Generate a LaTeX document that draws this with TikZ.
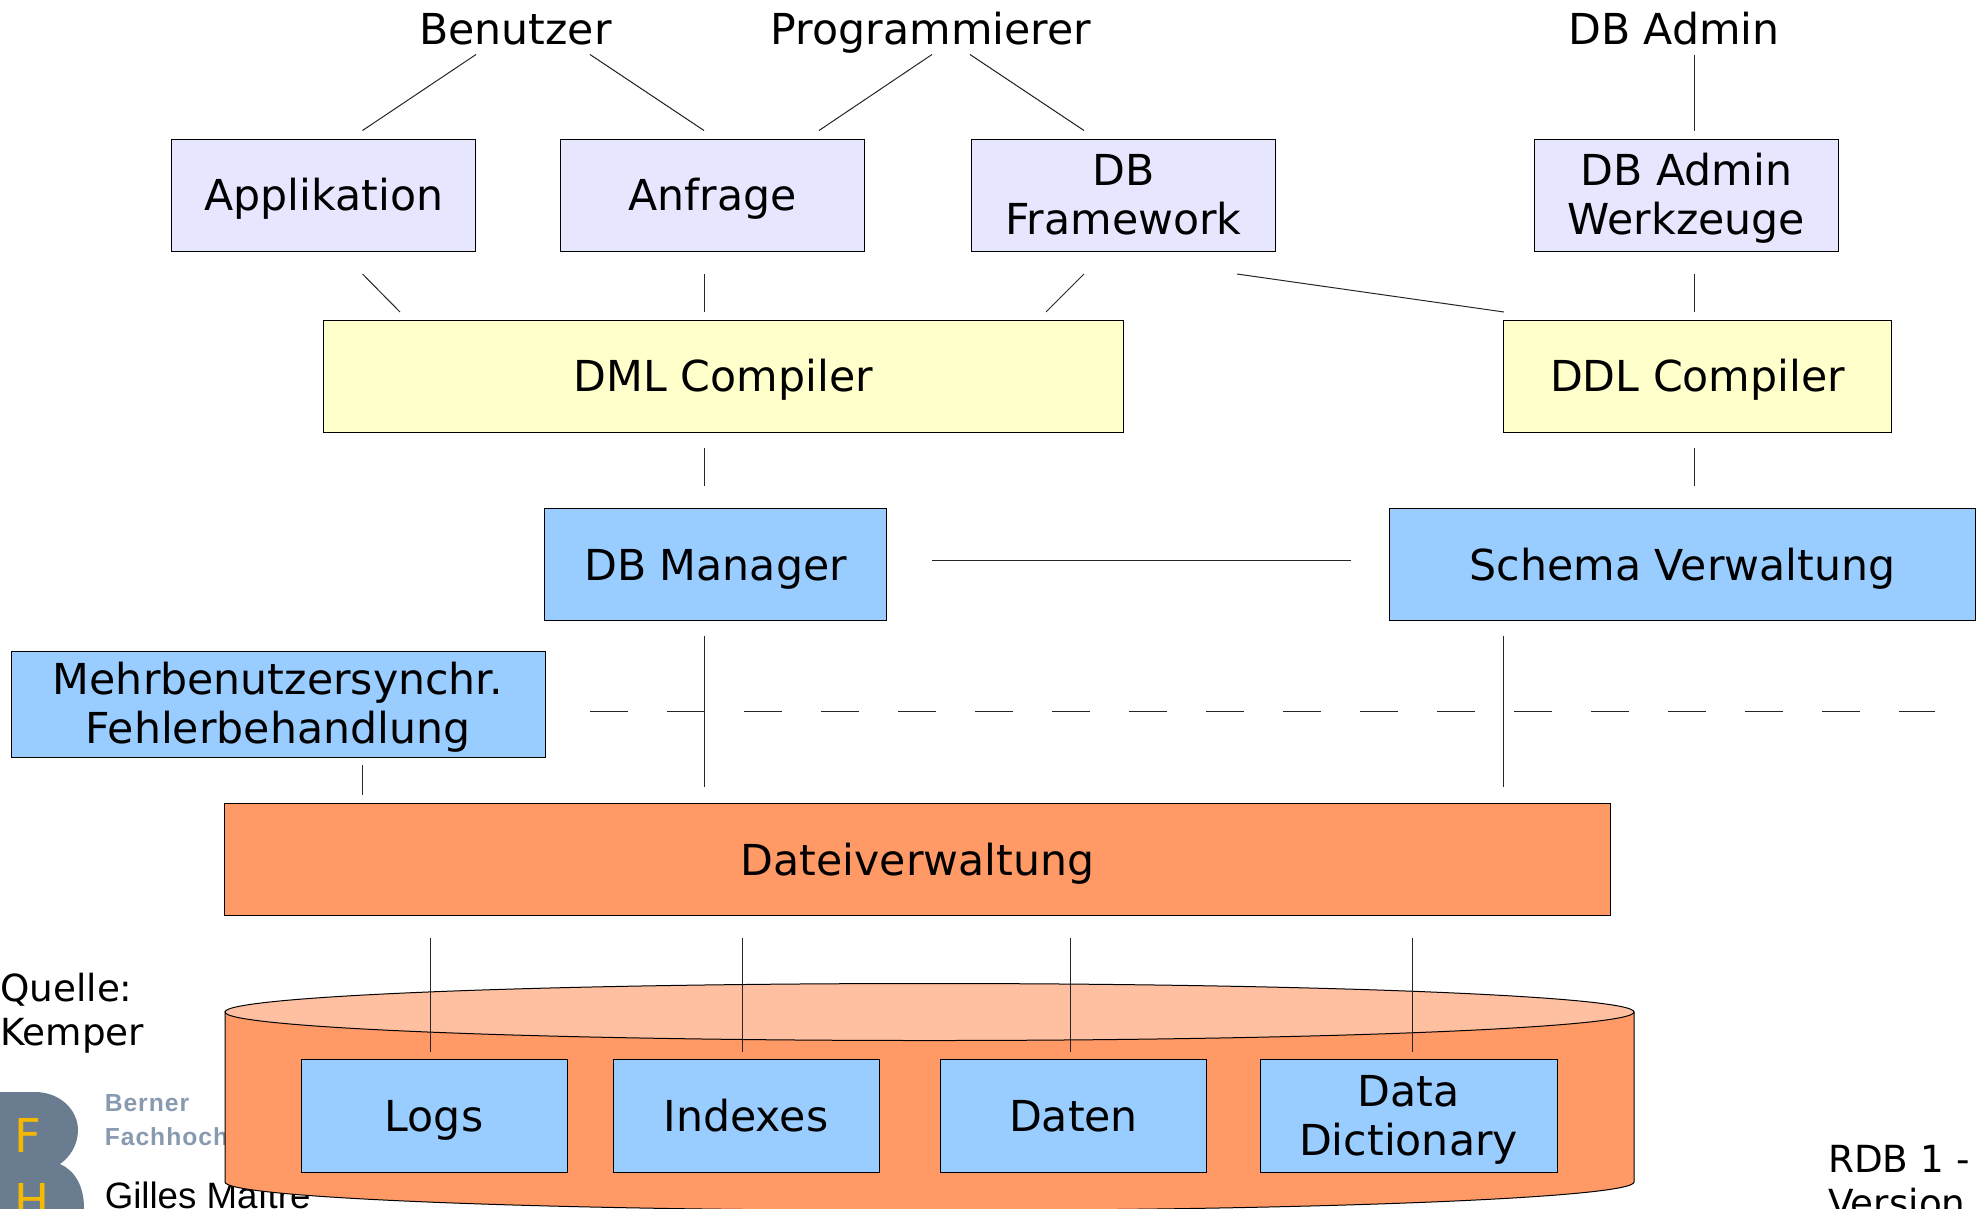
\documentclass[tikz,border=0pt]{standalone}
\usepackage{fontspec}
\setmainfont{DejaVu Sans}
\newfontfamily\arialfont{Liberation Sans}
\newfontfamily\logofont[LetterSpace=4]{Liberation Sans}
\usepackage{tikz}
\definecolor{boxlila}{RGB}{230,230,255}
\definecolor{boxgelb}{RGB}{255,255,204}
\definecolor{boxblau}{RGB}{153,204,255}
\definecolor{boxorange}{RGB}{255,153,102}
\definecolor{deckel}{RGB}{255,192,161}
\definecolor{logograu}{RGB}{106,125,144}
\definecolor{logogelb}{RGB}{245,184,0}
\definecolor{logotext}{RGB}{136,154,176}
\newcommand{\boxstrut}{\rule[-6.55pt]{0pt}{36.8pt}}
\newcommand{\topstrut}{\rule{0pt}{29pt}}
\tikzset{
  box/.style={draw,line width=0.75pt,inner sep=0pt,align=center,
    font=\fontsize{32}{36.8}\selectfont,execute at end node=\boxstrut},
  label/.style={inner sep=0pt,anchor=base,font=\fontsize{32}{36.8}\selectfont},
  note/.style={inner sep=0pt,align=left,anchor=north west,font=\fontsize{28}{33}\selectfont},
  logo/.style={inner sep=0pt,anchor=west,align=left,text=logotext,font=\logofont\bfseries\fontsize{18.5}{25.5}\selectfont},
  link/.style={line width=0.75pt,color=black!85},
}
\begin{document}
\begin{tikzpicture}[x=0.75pt,y=0.75pt,yscale=-1,xscale=1]
\useasboundingbox (0,0) rectangle (1981,1208);

% Logo
\fill [logograu] (-5,1092) -- (35,1092) .. controls (60,1092) and (78,1110) .. (78,1130) .. controls (78,1145) and (70,1157) .. (60,1164) .. controls (74,1170) and (84,1185) .. (84,1208) -- (84,1215) -- (-5,1215) -- cycle;
\node (logoF) [inner sep=0pt,anchor=west,text=logogelb,font=\fontsize{35}{40}\selectfont] at (14,1135) {F};
\node (logoH) [inner sep=0pt,anchor=west,text=logogelb,font=\fontsize{35}{40}\selectfont] at (14,1200) {H};
\node (logoTxt) [logo] at (104.5,1120) {Berner\\Fachhochschule};
\node (gilles) [inner sep=0pt,anchor=base west,font=\arialfont\fontsize{27.5}{33}\selectfont] at (104.5,1208) {Gilles Maître};

% Speicher
\draw [fill=boxorange,line width=0.75pt] (225,1012) -- (225,1182) .. controls (225,1197.7) and (540,1210.5) .. (929.5,1210.5) .. controls (1319,1210.5) and (1634,1197.7) .. (1634,1182) -- (1634,1012) -- cycle;
\draw [fill=deckel,line width=0.75pt] (929.5,1012) ellipse [x radius=704.5,y radius=28.5];

% Text Node
\node (benutzer) [label] at (515.5,44.5) {Benutzer};
\node (prog) [label] at (931,44.5) {Programmierer};
\node (admin) [label] at (1674,44.5) {DB Admin};

% Boxes
\node (appl) [box,fill=boxlila,minimum width=228pt,minimum height=84pt] at (323.8,195) {Applikation};
\node (anfrage) [box,fill=boxlila,minimum width=228pt,minimum height=84pt] at (712.5,195) {Anfrage};
\node (frame) [box,fill=boxlila,minimum width=228pt,minimum height=84pt] at (1123.5,195) {\topstrut DB\\Framework};
\node (werkz) [box,fill=boxlila,minimum width=228pt,minimum height=84pt] at (1686.5,195) {\topstrut DB Admin\\Werkzeuge};
\node (dml) [box,fill=boxgelb,minimum width=600pt,minimum height=84pt] at (723.5,376) {DML Compiler};
\node (ddl) [box,fill=boxgelb,minimum width=291pt,minimum height=84pt] at (1697.6,376) {DDL Compiler};
\node (manager) [box,fill=boxblau,minimum width=256.5pt,minimum height=84pt] at (715.6,564.5) {DB Manager};
\node (schema) [box,fill=boxblau,minimum width=439.5pt,minimum height=84pt] at (1682.6,564.5) {Schema Verwaltung};
\node (mehr) [box,fill=boxblau,minimum width=400.5pt,minimum height=79.5pt] at (278,704) {\topstrut Mehrbenutzersynchr.\\Fehlerbehandlung};
\node (datei) [box,fill=boxorange,minimum width=1039.5pt,minimum height=84pt] at (917.7,859.5) {Dateiverwaltung};
\node (logs) [box,fill=boxblau,minimum width=199.5pt,minimum height=85pt] at (434,1116) {Logs};
\node (indexes) [box,fill=boxblau,minimum width=199.5pt,minimum height=85pt] at (746,1116) {Indexes};
\node (daten) [box,fill=boxblau,minimum width=199.5pt,minimum height=85pt] at (1073.5,1116) {Daten};
\node (dict) [box,fill=boxblau,minimum width=222.75pt,minimum height=85pt] at (1408.5,1116) {\topstrut Data\\Dictionary};

% Text Node
\node (quelle) [note] at (0,973) {Quelle:\\Kemper};
\node (version) [note] at (1828,1145) {RDB 1 -\\Version};

% free ends of the connectors
\foreach \nm/\px/\py in {benA/476/54.5,appA/362.5/130.5,benB/590/54.5,anfA/704/130.5,progA/932/54.5,anfB/819/130.5,progB/970/54.5,frmA/1084/130.5,
    admA/1694/54.5,wrkA/1694/130.5,appB/362.5/274,dmlA/400/312,anfC/704/274,dmlB/704/312,frmB/1084/274,dmlC/1046/312,
    frmC/1237/274,ddlA/1504/312,wrkB/1694/274,ddlB/1694/312,dmlD/704/448,mgrA/704/486,ddlC/1694/448,schA/1694/486,
    mgrB/932/560.5,schB/1351/560.5,mgrC/704/636,datA/704/787,schC/1503.5/636,datB/1503.5/787,mehA/362.5/765,datC/362.5/795,
    datD/430.5/938,logA/430.5/1052,datE/742.5/938,idxA/742.5/1052,datF/1070/938,datnA/1070/1052,datG/1412/938,dicA/1412/1052,
    trennA/590/711.5,trennB/1935/711.5}
  \coordinate (\nm) at (\px,\py);

%Straight Lines
\draw [link] (benA) -- (appA);
\draw [link] (benB) -- (anfA);
\draw [link] (progA) -- (anfB);
\draw [link] (progB) -- (frmA);
\draw [link] (admA) -- (wrkA);
\draw [link] (appB) -- (dmlA);
\draw [link] (anfC) -- (dmlB);
\draw [link] (frmB) -- (dmlC);
\draw [link] (frmC) -- (ddlA);
\draw [link] (wrkB) -- (ddlB);
\draw [link] (dmlD) -- (mgrA);
\draw [link] (ddlC) -- (schA);
\draw [link] (mgrB) -- (schB);
\draw [link] (mgrC) -- (datA);
\draw [link] (schC) -- (datB);
\draw [link] (mehA) -- (datC);
\draw [link] (datD) -- (logA);
\draw [link] (datE) -- (idxA);
\draw [link] (datF) -- (datnA);
\draw [link] (datG) -- (dicA);
%Trennlinie
\draw [link,dash pattern={on 28.5pt off 29.25pt}] (trennA) -- (trennB);

\end{tikzpicture}
\end{document}
